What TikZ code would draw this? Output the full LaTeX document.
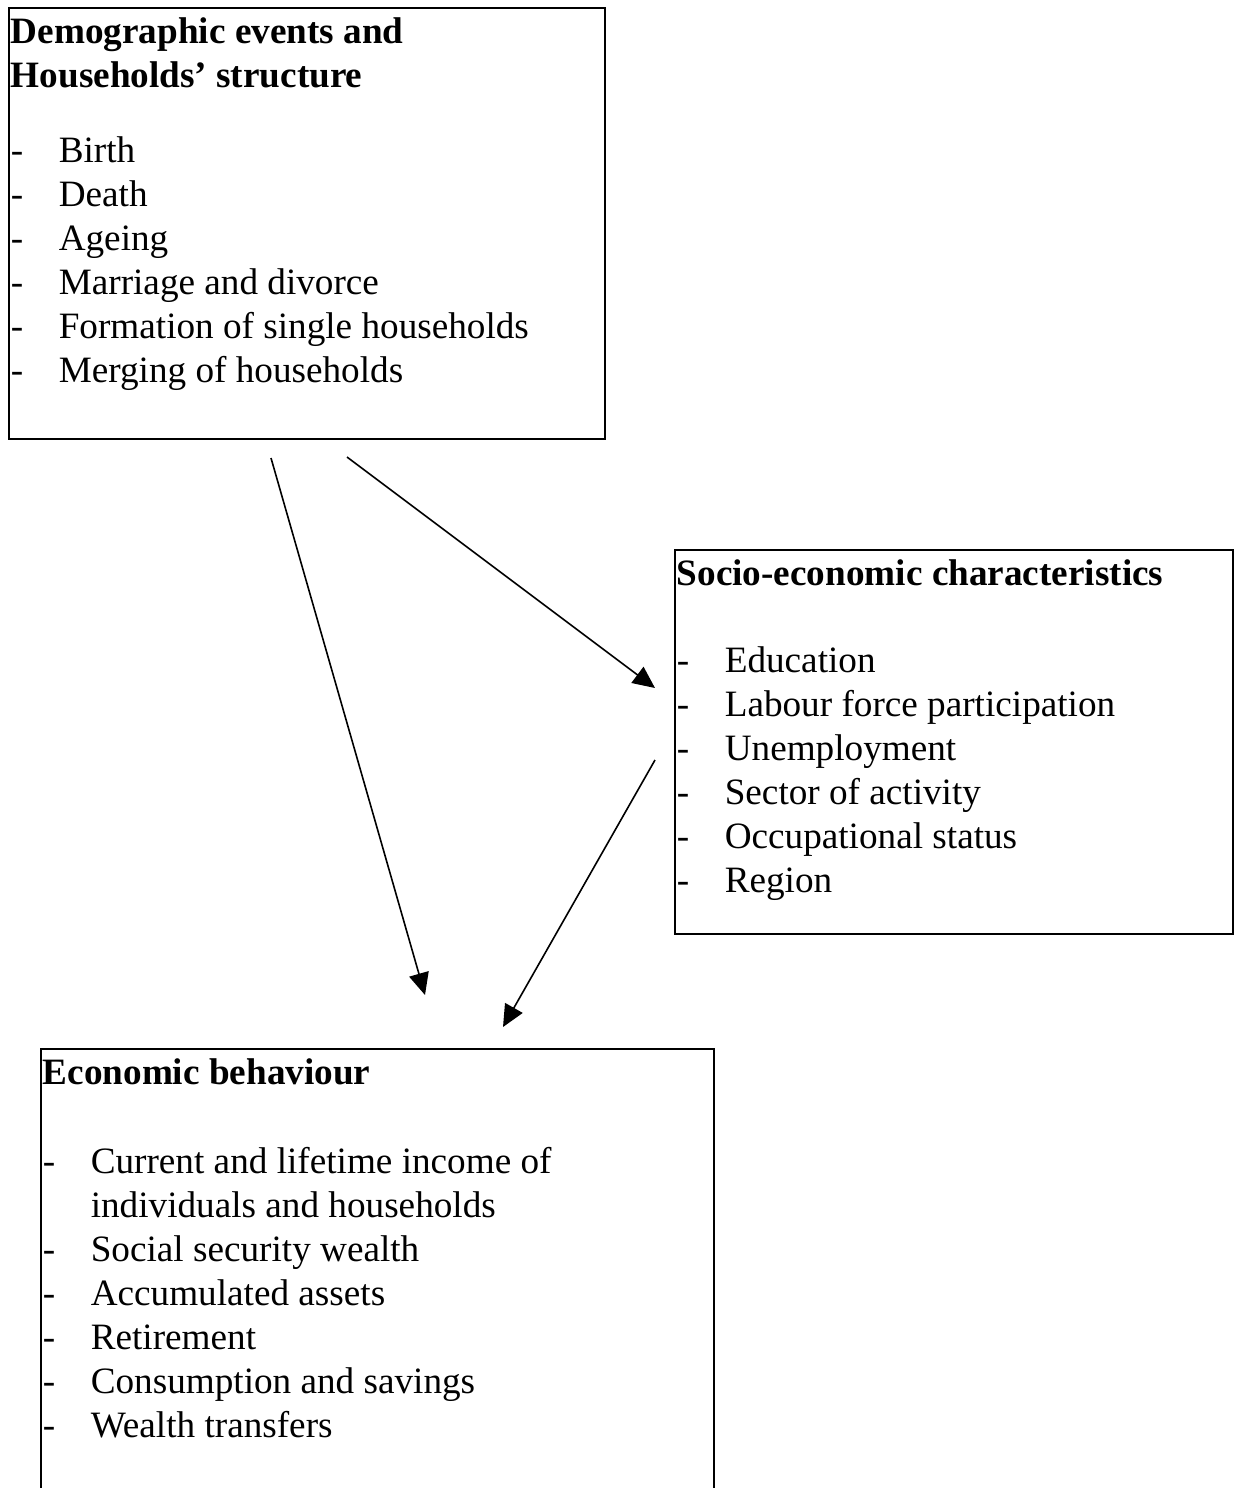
\documentclass[tikz,border=0pt]{standalone}
\usepackage{fontspec}
\setmainfont{Liberation Serif}
\usetikzlibrary{positioning, arrows.meta}

\newcommand{\itm}[1]{\hangindent=24pt\hangafter=1\noindent\makebox[24pt][l]{-}#1\par}
\newcommand{\panel}[3]{\parbox[t][#2][t]{#1}{\fontsize{18.6}{22}\selectfont\strut #3}}

\tikzset{
  panelbox/.style={draw, line width=0.8pt, anchor=north west, inner xsep=1pt, inner ysep=2.5pt},
  link/.style={line width=0.8pt, -{Triangle[length=11pt,width=10pt]}}
}

\begin{document}
\begin{tikzpicture}[x=0.5pt, y=-0.5pt]
            \clip (0,0) rectangle (1234,1488);
            \node[panelbox] (demo) at (8,7) {\panel{296pt}{210.5pt}{%
                {\bfseries Demographic events and\\ Households' structure\par}
                \vspace{15.5pt}
                \itm{Birth}
                \itm{Death}
                \itm{Ageing}
                \itm{Marriage and divorce}
                \itm{Formation of single households}
                \itm{Merging of households}}};
            \node[panelbox] (socio) at (674,549) {\panel{277pt}{187pt}{%
                {\bfseries Socio-economic characteristics\par}
                \vspace{21.5pt}
                \itm{Education}
                \itm{Labour force participation}
                \itm{Unemployment}
                \itm{Sector of activity}
                \itm{Occupational status}
                \itm{Region}}};
            \node[panelbox] (econ) at (40,1048) {\panel{334.5pt}{221pt}{%
                {\bfseries Economic behaviour\par}
                \vspace{22.5pt}
                \itm{Current and lifetime income of\\ individuals and households}
                \itm{Social security wealth}
                \itm{Accumulated assets}
                \itm{Retirement}
                \itm{Consumption and savings}
                \itm{Wealth transfers}}};
            \coordinate (d1) at (271,458);
            \coordinate (d2) at (347,457);
            \coordinate (s1) at (655,688);
            \coordinate (s2) at (655,760);
            \coordinate (e1) at (425,995);
            \coordinate (e2) at (503,1027);
            \draw[link] (d1) -- (e1);
            \draw[link] (d2) -- (s1);
            \draw[link] (s2) -- (e2);
\end{tikzpicture}
\end{document}
